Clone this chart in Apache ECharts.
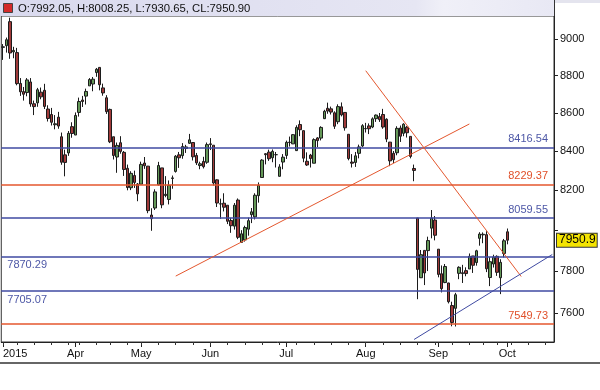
<!DOCTYPE html>
<html><head><meta charset="utf-8">
<script src="https://cdn.jsdelivr.net/npm/echarts@6/dist/echarts.min.js"></script>
<style>html,body{margin:0;padding:0;background:#fff}#c{width:600px;height:390px}</style>
</head><body><div id="c"></div><script>
// Trading dates (Mar 2 – Oct 1, 2015)
const dates = [
'2015-03-02','2015-03-03','2015-03-04','2015-03-05','2015-03-09','2015-03-10','2015-03-11','2015-03-12','2015-03-13','2015-03-16','2015-03-17','2015-03-18','2015-03-19','2015-03-20','2015-03-23','2015-03-24','2015-03-25','2015-03-26','2015-03-27','2015-03-30','2015-03-31',
'2015-04-01','2015-04-06','2015-04-07','2015-04-08','2015-04-09','2015-04-10','2015-04-13','2015-04-15','2015-04-16','2015-04-17','2015-04-20','2015-04-21','2015-04-22','2015-04-23','2015-04-24','2015-04-27','2015-04-28','2015-04-29','2015-04-30',
'2015-05-04','2015-05-05','2015-05-06','2015-05-07','2015-05-08','2015-05-11','2015-05-12','2015-05-13','2015-05-14','2015-05-15','2015-05-18','2015-05-19','2015-05-20','2015-05-21','2015-05-22','2015-05-25','2015-05-26','2015-05-27','2015-05-28','2015-05-29',
'2015-06-01','2015-06-02','2015-06-03','2015-06-04','2015-06-05','2015-06-08','2015-06-09','2015-06-10','2015-06-11','2015-06-12','2015-06-15','2015-06-16','2015-06-17','2015-06-18','2015-06-19','2015-06-22','2015-06-23','2015-06-24','2015-06-25','2015-06-26','2015-06-29','2015-06-30',
'2015-07-01','2015-07-02','2015-07-03','2015-07-06','2015-07-07','2015-07-08','2015-07-09','2015-07-10','2015-07-13','2015-07-14','2015-07-15','2015-07-16','2015-07-17','2015-07-20','2015-07-21','2015-07-22','2015-07-23','2015-07-24','2015-07-27','2015-07-28','2015-07-29','2015-07-30','2015-07-31',
'2015-08-03','2015-08-04','2015-08-05','2015-08-06','2015-08-07','2015-08-10','2015-08-11','2015-08-12','2015-08-13','2015-08-14','2015-08-17','2015-08-18','2015-08-19','2015-08-20','2015-08-21','2015-08-24','2015-08-25','2015-08-26','2015-08-27','2015-08-28','2015-08-31',
'2015-09-01','2015-09-02','2015-09-03','2015-09-04','2015-09-07','2015-09-08','2015-09-09','2015-09-10','2015-09-11','2015-09-14','2015-09-15','2015-09-16','2015-09-18','2015-09-21','2015-09-22','2015-09-23','2015-09-24','2015-09-28','2015-09-29','2015-09-30',
'2015-10-01'];
// empty future slots on the right of the chart
const futureDates = ['2015-10-05','2015-10-06','2015-10-07','2015-10-08','2015-10-09','2015-10-12','2015-10-13','2015-10-14','2015-10-15','2015-10-16','2015-10-19','2015-10-20','2015-10-21'];

const opens = [
8954,8963,9097,8929,8925,8757,8713,8708,8765,8648,8653,8710,8720,8620,8591,8537,8577,8474,8380,8390,8527,
8483,8602,8668,8689,8744,8754,8816,8844,8733,8680,8618,8474,8369,8443,8393,8311,8212,8274,8231,
8230,8338,8322,8075,8110,8227,8313,8173,8153,8259,8295,8380,8376,8413,8440,8444,8377,8325,8346,8342,
8437,8430,8252,8131,8134,8124,8048,8020,8150,7940,7952,8005,8077,8066,8172,8264,8386,8394,8365,8381,8270,8343,
8377,8446,8437,8402,8538,8506,8347,8379,8337,8468,8467,8569,8624,8621,8600,8553,8632,8602,8487,8343,8341,8388,8426,
8517,8531,8525,8569,8580,8591,8566,8446,8388,8391,8520,8492,8524,8476,8310,8060,7769,7901,7900,8010,8050,
7907,7788,7746,7744,7637,7624,7790,7793,7803,7811,7874,7842,7960,7980,7978,7770,7835,7872,7769,7886,
7992.05];
const highs = [
8972,9008,9119,8957,8951,8786,8738,8786,8786,8665,8733,8735,8755,8640,8626,8588,8605,8496,8407,8504,8550,
8602,8681,8690,8729,8786,8792,8841,8845,8756,8694,8622,8474,8444,8477,8400,8330,8296,8299,8236,
8345,8369,8323,8109,8204,8344,8313,8271,8249,8274,8379,8395,8441,8432,8489,8444,8390,8345,8370,8444,
8467,8430,8255,8157,8184,8124,8061,8135,8158,8000,8022,8062,8110,8184,8239,8358,8389,8407,8408,8395,8332,8384,
8454,8475,8488,8534,8560,8507,8393,8385,8466,8472,8529,8616,8654,8633,8608,8645,8655,8603,8487,8384,8395,8433,8540,
8547,8544,8576,8591,8599,8621,8571,8447,8400,8529,8533,8545,8530,8476,8330,8060,7903,7901,7968,8100,8070,
7907,7828,7835,7745,7655,7697,7824,7831,7819,7886,7874,7904,7990,7989,7995,7868,7880,7877,7858,7957,
8008.25];
const lows = [
8885,8925,8891,8894,8747,8690,8665,8688,8632,8588,8632,8672,8620,8554,8533,8513,8516,8329,8270,8375,8469,
8483,8580,8631,8644,8744,8715,8793,8720,8691,8594,8441,8356,8288,8386,8272,8199,8200,8211,8144,
8230,8308,8084,7997,8100,8223,8109,8164,8128,8207,8289,8313,8360,8390,8437,8351,8328,8306,8310,8334,
8405,8223,8115,8056,8093,8030,7987,8003,7956,7940,7944,7973,8035,8053,8137,8264,8331,8349,8342,8315,8269,8306,
8359,8423,8436,8400,8477,8342,8323,8315,8337,8420,8455,8567,8595,8591,8515,8540,8581,8506,8352,8315,8318,8362,8420,
8496,8488,8519,8552,8552,8516,8446,8322,8338,8378,8447,8477,8470,8362,8245,7667,7768,7734,7801,7960,7950,
7771,7699,7743,7647,7540,7539,7762,7744,7776,7811,7792,7827,7924,7936,7796,7729,7818,7778,7691,7867,
7930.65];
const closes = [
8957,8996,8923,8937,8756,8712,8699,8776,8647,8633,8723,8685,8634,8570,8550,8542,8530,8342,8341,8492,8491,
8586,8660,8660,8714,8778,8780,8834,8750,8706,8606,8448,8377,8429,8398,8305,8213,8285,8239,8181,
8331,8324,8097,8057,8191,8325,8126,8179,8224,8262,8373,8365,8423,8421,8458,8370,8339,8334,8319,8433,
8434,8236,8135,8130,8114,8044,8022,8124,7965,7982,8013,8047,8091,8174,8224,8353,8381,8360,8398,8381,8318,8368,
8445,8444,8485,8523,8511,8363,8328,8361,8459,8454,8523,8608,8609,8604,8529,8633,8589,8521,8361,8337,8375,8421,8532,
8516,8516,8568,8588,8564,8525,8462,8349,8355,8518,8477,8540,8495,8372,8300,7809,7880,7792,7949,8060,7975,
7785,7717,7823,7655,7558,7688,7819,7789,7789,7872,7829,7899,7981,7977,7812,7846,7868,7795,7843,7948,
7950.90];

// axis
const yRange = [7467.4, 9128.6];
const yTicks = [7600, 7800, 8000, 8200, 8400, 8600, 8800, 9000];
const yTickLabels = [7600, 7800, 8200, 8400, 8600, 8800, 9000]; // 8000 hidden behind the price tag
const monthStarts = ['2015-03-02','2015-04-01','2015-05-04','2015-06-01','2015-07-01','2015-08-03','2015-09-01','2015-10-01'];
const monthLabels = ['2015','Apr','May','Jun','Jul','Aug','Sep','Oct'];

// horizontal levels
const blueLevels = [8416.54, 8059.55, 7870.29, 7705.07];
const blueLabelAtStart = [false, false, true, true];
const redLevels = [8229.37, 7549.73];
const lastPrice = 7950.90;
const lastPriceLabel = '7950.9';

// trend lines [startDate, startValue, endDate, endValue]
const redTrends = [
  ['2015-05-18', 7777, '2015-09-14', 8541],
  ['2015-08-03', 8826, '2015-10-08', 7775]
];
const blueTrends = [
  ['2015-08-21', 7479, '2015-10-21', 7881]
];

const BLUE = '#3f4aa2', BLUE_T = '#4d57a6', RED = '#e4572e', RED_T = '#e0502a';
const FONT = 'Liberation Sans';
const L = Math.log;

const allDates = dates.concat(futureDates);
const candles = dates.map((d, i) => [L(opens[i]), L(closes[i]), L(lows[i]), L(highs[i])]);

// first trading day of each week
function weekKey(s) { const t = Date.parse(s + 'T00:00:00Z'); const d = new Date(t).getUTCDay(); return t - ((d + 6) % 7) * 86400000; }
const weekStart = allDates.map((d, i) => i === 0 || weekKey(d) !== weekKey(allDates[i - 1]));

const markData = [];
blueLevels.forEach((v, k) => {
  const atStart = blueLabelAtStart[k];
  markData.push({ yAxis: L(v), lineStyle: { color: BLUE, width: 1.6, type: 'solid' },
    label: { show: true, formatter: v.toFixed(2), position: atStart ? 'insideStartBottom' : 'insideEndTop',
      distance: [6, 3], color: BLUE_T, fontSize: 11, fontFamily: FONT } });
});
redLevels.forEach(v => {
  markData.push({ yAxis: L(v), lineStyle: { color: RED, width: 1.6, type: 'solid' },
    label: { show: true, formatter: v.toFixed(2), position: 'insideEndTop', distance: [6, 3],
      color: RED_T, fontSize: 11, fontFamily: FONT } });
});
redTrends.forEach(t => {
  markData.push([{ coord: [t[0], L(t[1])], lineStyle: { color: RED, width: 1, type: 'solid' }, label: { show: false } },
                 { coord: [t[2], L(t[3])] }]);
});
blueTrends.forEach(t => {
  markData.push([{ coord: [t[0], L(t[1])], lineStyle: { color: BLUE, width: 1, type: 'solid' }, label: { show: false } },
                 { coord: [t[2], L(t[3])] }]);
});

const headerText = 'O:' + opens[opens.length - 1].toFixed(2) + ', H:' + highs[highs.length - 1].toFixed(2) +
  ', L:' + lows[lows.length - 1].toFixed(2) + ', CL:' + closes[closes.length - 1].toFixed(2);

const chart = echarts.init(document.getElementById('c'), null, { renderer: 'canvas' });
chart.setOption({
  animation: false,
  backgroundColor: '#fff',
  grid: { left: 0.5, right: 46, top: 16, bottom: 48, show: true, borderColor: '#333', borderWidth: 1, backgroundColor: 'transparent' },
  xAxis: [{
    type: 'category', data: allDates, boundaryGap: true, position: 'bottom',
    axisLine: { show: true, lineStyle: { color: '#222', width: 1 } },
    axisTick: { show: true, alignWithLabel: true, length: 5, interval: (i, v) => monthStarts.indexOf(v) >= 0, lineStyle: { color: '#222' } },
    axisLabel: { show: true, interval: (i, v) => monthStarts.indexOf(v) >= 0,
      formatter: v => monthLabels[monthStarts.indexOf(v)], alignMinLabel: 'left',
      margin: 6, color: '#111', fontSize: 11, fontFamily: FONT },
    splitLine: { show: false }
  }, {
    type: 'category', data: allDates, boundaryGap: true, position: 'bottom',
    axisLine: { show: false },
    axisTick: { show: true, alignWithLabel: true, length: 3, interval: i => weekStart[i], lineStyle: { color: '#333' } },
    axisLabel: { show: false }, splitLine: { show: false }
  }],
  yAxis: {
    type: 'value', position: 'right', scale: true, min: L(yRange[0]), max: L(yRange[1]),
    axisLine: { show: true, lineStyle: { color: '#222', width: 1 } },
    axisTick: { show: true, length: 4, customValues: yTicks.map(L), lineStyle: { color: '#222' } },
    axisLabel: { show: true, customValues: yTickLabels.map(L), formatter: v => String(Math.round(Math.exp(v))),
      margin: 6, color: '#111', fontSize: 11, fontFamily: FONT },
    splitLine: { show: false }
  },
  series: [{
    type: 'candlestick', xAxisIndex: 0, data: candles, barWidth: 3,
    itemStyle: { color: '#649858', color0: '#a03a3a', borderColor: '#1c1c1c', borderColor0: '#1c1c1c', borderWidth: 1 },
    markLine: { silent: true, precision: 10, symbol: ['none', 'none'], animation: false, data: markData }
  }, {
    // last-price tag on the right axis
    type: 'line', xAxisIndex: 0, data: [], silent: true,
    markLine: { silent: true, precision: 10, symbol: ['none', 'none'], animation: false,
      lineStyle: { color: 'rgba(0,0,0,0)', width: 1, type: 'solid' },
      data: [{ yAxis: L(lastPrice),
        label: { show: true, formatter: lastPriceLabel, position: 'end', distance: 3, color: '#000',
          backgroundColor: '#f4e400', borderColor: '#333', borderWidth: 1, padding: [1, 1, 0, 2],
          fontSize: 12, fontFamily: FONT, lineHeight: 12 } }] },
    z: 20
  }],
  graphic: [
    { type: 'rect', shape: { x: 0, y: 0, width: 554, height: 16 }, z: 10,
      style: { fill: new echarts.graphic.LinearGradient(0, 0, 1, 0, [
        { offset: 0, color: '#d9d9ee' }, { offset: 0.75, color: '#e6e6f3' }, { offset: 0.8, color: '#f0f0f8' }, { offset: 1, color: '#e8e8f4' }]) } },
    { type: 'rect', shape: { x: 554, y: 0, width: 46, height: 3 }, z: 10, style: { fill: '#e4e4ee' } },
    { type: 'line', shape: { x1: 554.5, y1: 0, x2: 554.5, y2: 16 }, z: 11, style: { stroke: '#333', lineWidth: 1 } },
    { type: 'rect', shape: { x: 3.5, y: 3.5, width: 9, height: 9 }, z: 11, style: { fill: '#d42a2a', stroke: '#444', lineWidth: 1 } },
    { type: 'text', x: 18, y: 8.5, z: 11, style: { text: headerText, fill: '#111', font: '11.3px "Liberation Sans"', verticalAlign: 'middle' } },
    { type: 'line', shape: { x1: 0, y1: 363, x2: 600, y2: 363 }, z: 10, style: { stroke: '#333', lineWidth: 1.5 } }
  ]
});
</script></body></html>
